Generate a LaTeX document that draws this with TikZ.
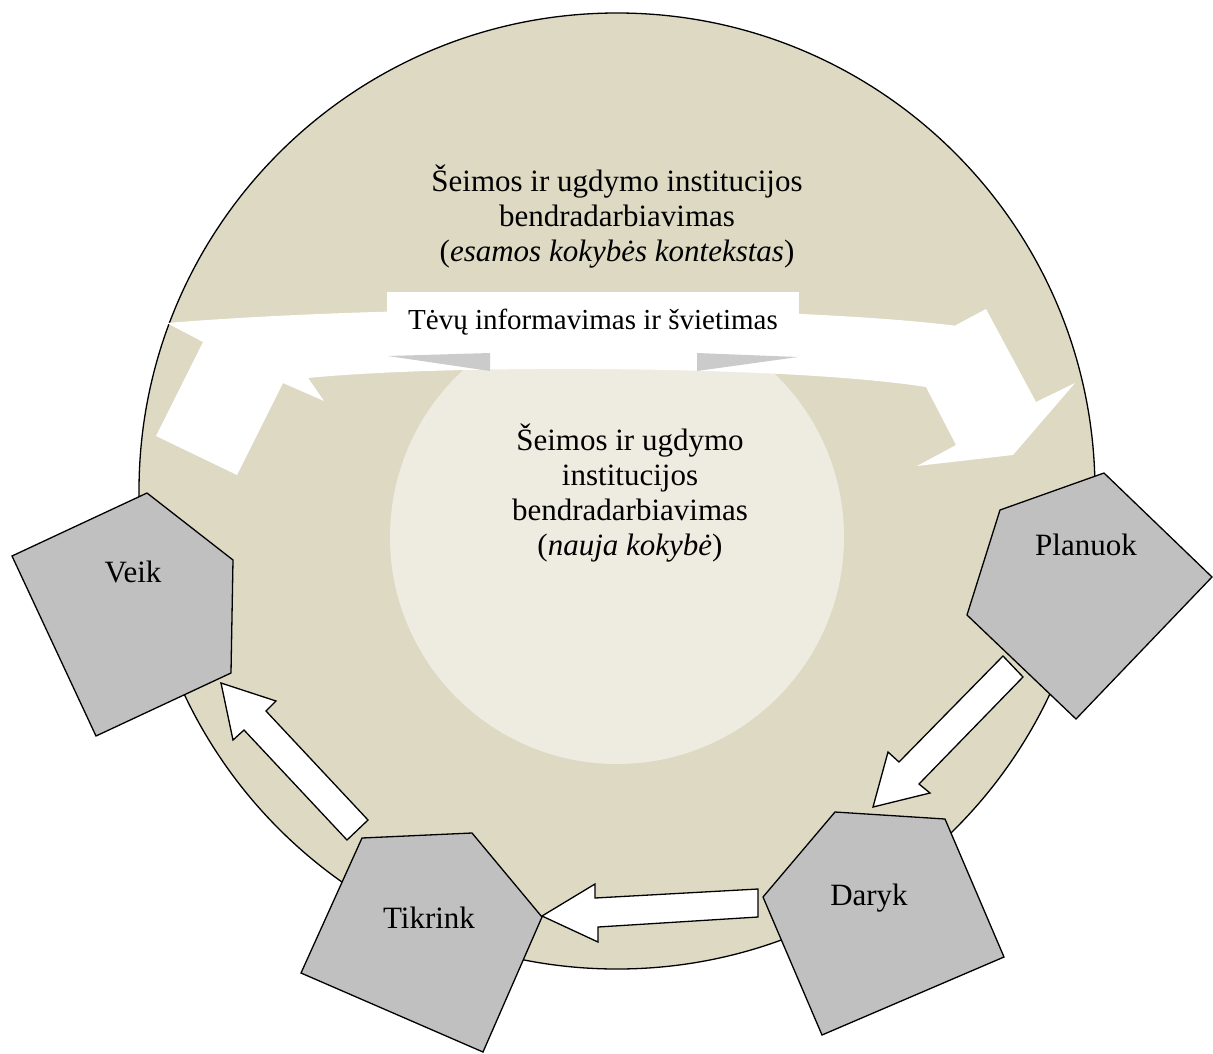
\documentclass[tikz,border=0pt]{standalone}
\usepackage{fontspec}
\setmainfont{Liberation Serif}
\definecolor{outerc}{HTML}{DDD9C3}
\definecolor{innerc}{HTML}{EEECE1}
\definecolor{pentc}{HTML}{C0C0C0}
\definecolor{foldc}{HTML}{CBCBCB}
\tikzset{
  pentbox/.style={draw=black, fill=pentc, line width=1.3pt, line join=miter},
  blockarrow/.style={draw=black, fill=white, line width=1.3pt, line join=miter},
  bigtext/.style={font=\fontsize{31}{35}\selectfont, align=center, inner sep=0pt},
  bannertext/.style={font=\fontsize{29}{33}\selectfont, inner sep=0pt},
  whiteshape/.style={fill=white, draw=none},
}
\begin{document}
\begin{tikzpicture}[x=1pt,y=-1pt]
\useasboundingbox (0,0) rectangle (1213,1053);
% outer and inner circles
\draw[fill=outerc, line width=1.3pt] (617,491) circle[radius=478pt];
\fill[innerc] (617,537) circle[radius=227pt];
% banner: curved band
\fill[white] (167,323) .. controls (400,304) and (780,304) .. (958,326)
  -- (926,387) .. controls (780,364) and (400,364) .. (283,381) -- cycle;
% left arrow piece
\path[whiteshape] (167,323) -- (203,342) -- (156,436) -- (237,475) -- (283,383)
  -- (324,401) -- (275,330) -- cycle;
% right arrow piece
\path[whiteshape] (956,325) -- (986,309) -- (1036,402) -- (1075,383) -- (1013,455)
  -- (917,466) -- (956,445) -- (926,387) -- cycle;
% central ribbon face and folds
\path[whiteshape] (387,292) rectangle (799,355);
\fill[foldc] (388,356) -- (490,353) -- (490,371) -- cycle;
\fill[foldc] (697,353) -- (697,371) -- (798,357) -- cycle;
% texts
\node[bigtext] (outertext) at (617,217) {Šeimos ir ugdymo institucijos\\ bendradarbiavimas\\ (\textit{esamos kokybės kontekstas})};
\node[bannertext] (banner) at (593,322) {Tėvų informavimas ir švietimas};
\node[bigtext] (innertext) at (630,493) {Šeimos ir ugdymo\\ institucijos\\ bendradarbiavimas\\ (\textit{nauja kokybė})};
% block arrows
\draw[blockarrow] (1003,656) -- (1023,677) -- (919,784) -- (930,793) -- (873,807)
  -- (888,752) -- (899,762) -- cycle;
\draw[blockarrow] (758,889) -- (758,917) -- (598,927) -- (598,942) -- (542,916)
  -- (595,884) -- (595,898) -- cycle;
\draw[blockarrow] (368,820) -- (347,840) -- (244,730) -- (233,740) -- (221,683)
  -- (276,701) -- (266,711) -- cycle;
% pentagons
\draw[pentbox] (147,493) -- (233,560) -- (231,673) -- (96,736) -- (12,556) -- cycle;
\draw[pentbox] (1104,473) -- (1212,577) -- (1076,719) -- (967,615) -- (1000,510) -- cycle;
\draw[pentbox] (835,812) -- (945,819) -- (1004,957) -- (822,1035) -- (763,897) -- cycle;
\draw[pentbox] (362,838) -- (472,833) -- (542,917) -- (483,1052) -- (301,973) -- cycle;
\node[bigtext] (veik) at (133,572) {Veik};
\node[bigtext] (planuok) at (1086,545) {Planuok};
\node[bigtext] (daryk) at (869,898) {Daryk};
\node[bigtext] (tikrink) at (429,918) {Tikrink};
\end{tikzpicture}
\end{document}
